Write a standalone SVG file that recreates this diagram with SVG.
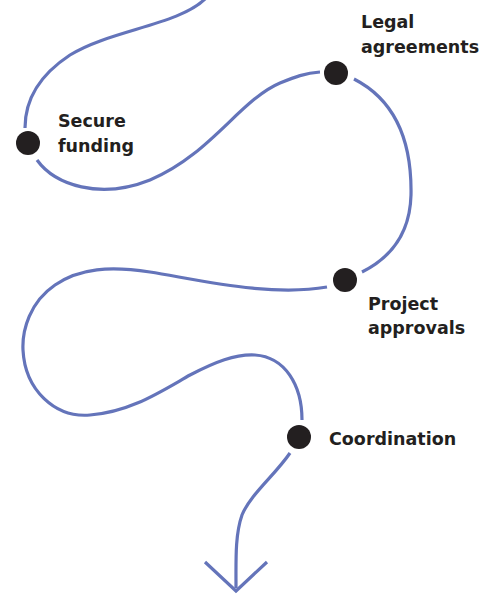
<svg xmlns="http://www.w3.org/2000/svg" width="481" height="594" viewBox="0 0 481 594">
<style>
.c{fill:none;stroke:#6474ba;stroke-width:3.2;stroke-linecap:butt;stroke-linejoin:miter}
.d{fill:#231f20}
.t{font-family:"DejaVu Sans","Liberation Sans",Arial,sans-serif;font-weight:bold;font-size:17.5px;fill:#231f20}
</style>
<rect width="481" height="594" fill="#ffffff"/>
<g id="connectors">
<path class="c" d="M 206 -2 C 180 25, 110 30, 70 55 C 35 78, 25 105, 25 128"/>
<path class="c" d="M 37 160 C 55 185, 100 200, 150 180 C 210 155, 240 100, 280 83 C 295 77, 305 73, 320 72"/>
<path class="c" d="M 354 79 C 395 100, 412 140, 411 195 C 410 235, 390 258, 362 272"/>
<path class="c" d="M 327 287 C 270 297, 200 280, 150 272 C 110 266, 80 268, 55 285 C 30 302, 22 330, 23 350 C 25 390, 55 418, 90 415 C 130 412, 160 392, 190 375 C 215 362, 235 354, 255 355 C 285 357, 302 385, 302 420"/>
<path class="c" d="M 290 453 C 275 475, 250 495, 242 515 C 235 535, 236 560, 236 588"/>
<path class="c" d="M 205 562 L 236 591 L 267 562"/>
</g>
<g id="secure-funding">
<circle class="d" cx="28" cy="143" r="12"/>
<text class="t" x="58" y="127">Secure</text>
<text class="t" x="58" y="152">funding</text>
</g>
<g id="legal-agreements">
<circle class="d" cx="336" cy="73" r="12"/>
<text class="t" x="361" y="28">Legal</text>
<text class="t" x="361" y="53">agreements</text>
</g>
<g id="project-approvals">
<circle class="d" cx="345" cy="280" r="12"/>
<text class="t" x="368" y="310">Project</text>
<text class="t" x="368" y="334">approvals</text>
</g>
<g id="coordination">
<circle class="d" cx="299" cy="437" r="12"/>
<text class="t" x="329" y="445">Coordination</text>
</g>
</svg>
